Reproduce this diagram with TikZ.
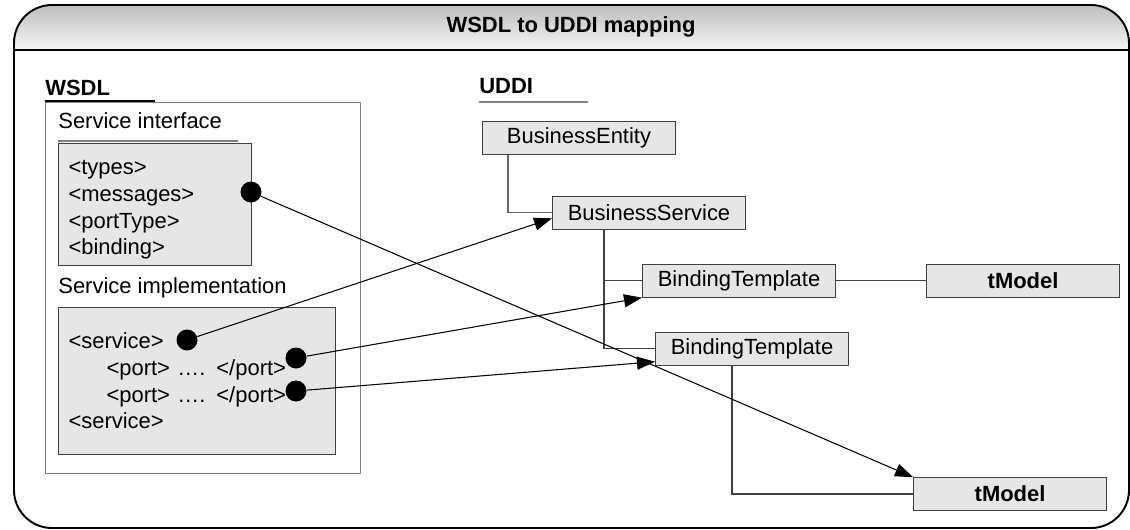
\documentclass[tikz,border=0pt]{standalone}
\usepackage{fontspec}
\setmainfont{Liberation Sans}
\usepackage{tikz}
\usetikzlibrary{positioning,arrows.meta}
\definecolor{boxfill}{HTML}{E6E6E6}
\definecolor{boxline}{HTML}{404040}
\definecolor{linkgray}{HTML}{666666}
\definecolor{headtop}{HTML}{BDBDBD}
\definecolor{headbot}{HTML}{F6F6F6}

\begin{document}
\begin{tikzpicture}[
  font=\fontsize{12.5pt}{15.2pt}\selectfont,
  uddibox/.style={draw=boxline, fill=boxfill, line width=0.6pt, minimum width=3.86cm, minimum height=0.65cm, inner sep=0pt, anchor=north west},
  wsdlbox/.style={draw=boxline, fill=boxfill, line width=0.6pt, align=left, inner xsep=0.2cm, inner ysep=0pt, anchor=north west},
  heading/.style={anchor=base west, inner sep=0pt},
  mapdot/.style={circle, fill=black, minimum size=0.42cm, inner sep=0pt},
  treeline/.style={draw=boxline, line width=0.6pt},
  maparrow/.style={-{Triangle[length=0.36cm,width=0.26cm]}, line width=0.6pt},
  outerframe/.style={line width=1.1pt}
]
\useasboundingbox (0,0) rectangle (22.6,10.58);
\begin{scope}
  \clip[rounded corners=0.76cm] (0.28,0.02) rectangle (22.58,10.48);
  \shade[top color=headtop, bottom color=headbot] (0.28,9.58) rectangle (22.58,10.48);
\end{scope}
\draw[outerframe, rounded corners=0.76cm] (0.28,0.02) rectangle (22.58,10.48);
\draw[outerframe] (0.28,9.58) -- (22.58,9.58);
\node (title) at (11.42,10.04) {\textbf{WSDL to UDDI mapping}};

\node[draw=gray, line width=0.6pt, minimum width=6.3cm, minimum height=7.42cm, anchor=north west] (wsdlpane) at (0.90,8.54) {};
\node[heading] (wsdl) at (0.90,8.68) {\textbf{WSDL}};
\draw[line width=0.9pt] ([yshift=-0.12cm]wsdl.base west) -- ++(2.2,0);
\node[heading] (iflbl) at (1.16,8.02) {Service interface};
\draw[treeline, draw=gray] ([yshift=-0.26cm]iflbl.base west) -- ++(3.6,0);
\node[wsdlbox, text width=3.46cm, text height=0.5cm, minimum height=2.44cm] (iface) at (1.16,7.72) {%
  <types>\\
  <messages>\\
  <portType>\\
  <binding>};
\node[heading] (impllbl) at (1.16,4.72) {Service implementation};
\node[wsdlbox, text width=5.14cm, minimum height=2.94cm] (impl) at (1.16,4.44) {%
  <service>\\
  \hspace*{0.76cm}<port> …. </port>\\
  \hspace*{0.76cm}<port> …. </port>\\
  <service>};
\node[mapdot] (msgdot) at (5.02,6.74) {};
\node[mapdot] (svcdot) at (3.74,3.78) {};
\node[mapdot] (portdotA) at (5.92,3.42) {};
\node[mapdot] (portdotB) at (5.92,2.76) {};

\node[heading] (uddi) at (9.58,8.72) {\textbf{UDDI}};
\draw[treeline, draw=gray] ([yshift=-0.18cm]uddi.base west) -- ++(2.18,0);
\node[uddibox] (entity) at (9.64,8.16) {BusinessEntity};
\node[uddibox, below right=0.83cm and 1.4cm of entity.south west] (bservice) {BusinessService};
\node[uddibox, below right=0.69cm and 1.8cm of bservice.south west] (bindingA) {BindingTemplate};
\node[uddibox, below right=0.69cm and 0.26cm of bindingA.south west] (bindingB) {BindingTemplate};
\node[uddibox, right=1.8cm of bindingA] (tmodelA) {\textbf{tModel}};
\node[uddibox, below right=2.23cm and 1.28cm of bindingB.south east] (tmodelB) {\textbf{tModel}};

\draw[treeline, draw=linkgray] ([xshift=0.52cm]entity.south west) |- (bservice.west);
\draw[treeline] ([xshift=1.04cm]bservice.south west) |- (bindingA.west);
\draw[treeline] ([xshift=1.04cm]bservice.south west) |- (bindingB.west);
\draw[treeline] (bindingA) -- (tmodelA);
\draw[treeline] ([xshift=1.54cm]bindingB.south west) |- (tmodelB.west);

\draw[maparrow] (msgdot) -- (tmodelB.north west);
\draw[maparrow] (svcdot) -- ([yshift=-0.11cm]bservice.west);
\draw[maparrow] (portdotA) -- (bindingA.south west);
\draw[maparrow] (portdotB) -- ([yshift=0.08cm]bindingB.south west);
\end{tikzpicture}
\end{document}
